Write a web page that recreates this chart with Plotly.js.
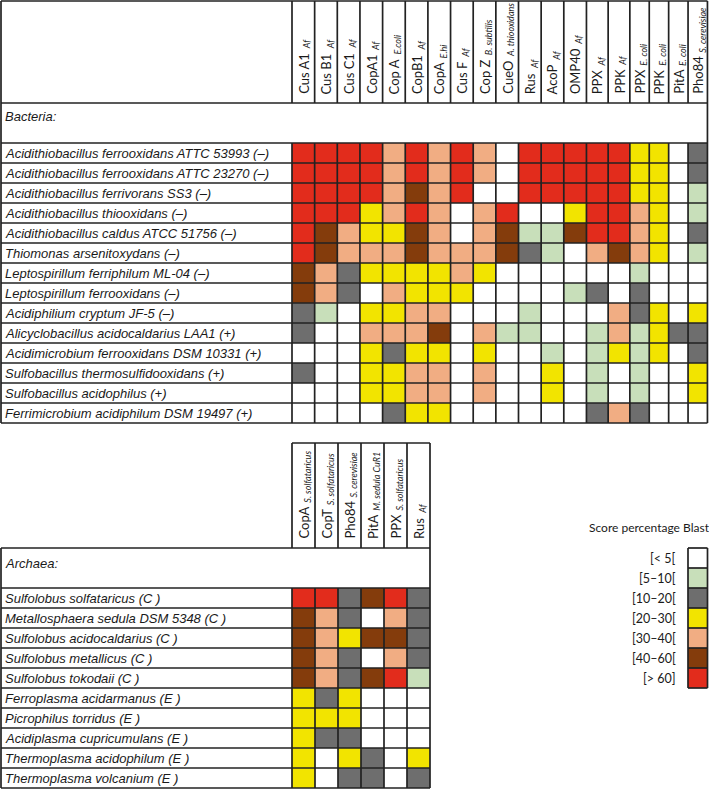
<!DOCTYPE html>
<html><head><meta charset="utf-8">
<script src="https://cdn.plot.ly/plotly-3.0.1.min.js"></script>
<style>html,body{margin:0;padding:0;background:#fff}#chart{width:709px;height:790px}</style>
</head><body><div id="chart"></div>
<script>
// ---------------- data ----------------
// score levels: 0 [<5[, 1 [5-10[, 2 [10-20[, 3 [20-30[, 4 [30-40[, 5 [40-60[, 6 [>60]
const legendLabels = ["[< 5[", "[5–10[", "[10–20[", "[20–30[", "[30–40[", "[40–60[", "[> 60]"];
const legendTitle = "Score percentage Blast";

const bacteriaGenes = ["Cus A1", "Cus B1", "Cus C1", "CopA1", "Cop A", "CopB1", "CopA", "Cus F", "Cop Z", "CueO",
  "Rus", "AcoP", "OMP40", "PPX", "PPK", "PPX", "PPK", "PitA", "Pho84"];
const bacteriaGeneSources = ["Af", "Af", "Af", "Af", "E.coli", "Af", "E.hi", "Af", "B. subtilis", "A. thiooxidans",
  "Af", "Af", "Af", "Af", "Af", "E. coli", "E. coli", "E. coli", "S. cerevisiae"];

const bacteria = [
  "Acidithiobacillus ferrooxidans ATTC 53993 (–)",
  "Acidithiobacillus ferrooxidans ATTC 23270 (–)",
  "Acidithiobacillus ferrivorans SS3 (–)",
  "Acidithiobacillus thiooxidans (–)",
  "Acidithiobacillus caldus ATCC 51756 (–)",
  "Thiomonas arsenitoxydans (–)",
  "Leptospirillum ferriphilum ML-04 (–)",
  "Leptospirillum ferrooxidans (–)",
  "Acidiphilium cryptum JF-5 (–)",
  "Alicyclobacillus acidocaldarius LAA1 (+)",
  "Acidimicrobium ferrooxidans DSM 10331 (+)",
  "Sulfobacillus thermosulfidooxidans (+)",
  "Sulfobacillus acidophilus (+)",
  "Ferrimicrobium acidiphilum DSM 19497 (+)"
];
const bacteriaScores = [
  [6,6,6,6,4,6,4,6,4,0,6,6,6,6,6,3,3,0,2],
  [6,6,6,6,4,6,4,6,4,0,6,6,6,6,6,3,3,0,2],
  [6,6,6,6,4,5,4,6,0,0,6,6,6,6,6,3,3,0,1],
  [6,6,6,3,4,6,4,0,4,6,0,0,3,6,6,4,3,0,1],
  [6,5,4,3,3,5,4,0,4,5,1,1,5,6,6,4,3,0,2],
  [6,5,4,4,4,5,4,4,4,5,2,1,0,4,5,4,3,0,1],
  [5,4,2,3,3,3,3,4,3,0,0,0,0,0,0,1,0,0,0],
  [5,4,2,0,4,3,3,3,0,0,0,0,1,2,0,2,0,0,0],
  [2,1,0,3,3,4,4,0,0,0,1,0,0,0,4,2,3,0,3],
  [2,0,0,4,4,4,5,0,4,1,1,0,0,1,4,1,3,2,2],
  [0,0,0,3,2,3,3,0,3,0,0,1,0,1,3,1,3,0,2],
  [2,0,0,3,3,4,4,0,4,0,0,3,0,1,0,1,0,0,3],
  [0,0,0,3,3,4,4,0,4,0,0,3,0,1,0,1,0,0,3],
  [0,0,0,0,2,3,3,0,0,0,0,0,0,2,4,2,0,0,0]
];

const archaeaGenes = ["CopA", "CopT", "Pho84", "PitA", "PPX", "Rus"];
const archaeaGeneSources = ["S. solfataricus", "S. solfataricus", "S. cerevisiae", "M. sedula CuR1", "S. solfataricus", "Af"];
const archaea = [
  "Sulfolobus solfataricus (C )",
  "Metallosphaera sedula DSM 5348 (C )",
  "Sulfolobus acidocaldarius (C )",
  "Sulfolobus metallicus (C )",
  "Sulfolobus tokodaii (C )",
  "Ferroplasma acidarmanus (E )",
  "Picrophilus torridus (E )",
  "Acidiplasma cupricumulans (E )",
  "Thermoplasma acidophilum (E )",
  "Thermoplasma volcanium (E )"
];
const archaeaScores = [
  [6,6,2,5,6,2],
  [5,4,2,0,4,2],
  [5,4,3,5,5,2],
  [5,4,2,0,4,2],
  [5,4,2,5,6,1],
  [3,2,3,0,0,0],
  [3,3,3,0,0,0],
  [3,2,2,0,0,0],
  [3,0,3,2,0,3],
  [3,0,2,2,0,2]
];

// ---------------- style / layout ----------------
const levelColors = ["#ffffff", "#c8dfba", "#6e6e6e", "#f2e400", "#f1ad83", "#843c0c", "#e22c1c"];
const W = 709, H = 790;
const LINE = "#222222", LW = 1.7;
const FRAME_L = 1, LABEL_R = 292;
// bacteria geometry
const B_TOP = 1, B_HEAD_B = 103, B_ROWS_T = 143, ROW_H = 20;
const bColW = [22.65,22.65,22.65,22.65,22.65,22.65,22.65,22.65,22.65,22.65,22.65,22.65,22.65,21.7,21.7,19.4,19.4,19.4,19.4];
// archaea geometry
const A_HEAD_T = 443, A_HEAD_B = 548, A_ROWS_T = 588, A_COL_W = 23;
// legend geometry
const L_X0 = 688, L_X1 = 707.5, L_Y0 = 548;

const cum = (start, widths) => { const e = [start]; widths.forEach(w => e.push(e[e.length-1] + w)); return e; };
const bX = cum(LABEL_R, bColW);
const bY = cum(B_ROWS_T, bacteria.map(() => ROW_H));
const B_BOT = bY[bY.length-1];
const B_RIGHT = bX[bX.length-1];
const aX = cum(LABEL_R, archaeaGenes.map(() => A_COL_W));
const aY = cum(A_ROWS_T, archaea.map(() => ROW_H));
const A_BOT = aY[aY.length-1];
const A_RIGHT = aX[aX.length-1];
const lY = cum(L_Y0, legendLabels.map(() => ROW_H));

const n = levelColors.length;
const colorscale = [];
levelColors.forEach((c, k) => { colorscale.push([k/n, c]); colorscale.push([(k+1)/n, c]); });

const hm = (x, y, z) => ({type: "heatmap", x, y, z, colorscale, zmin: -0.5, zmax: n - 0.5,
  showscale: false, hoverinfo: "skip", xaxis: "x", yaxis: "y"});

const traces = [
  hm(bX, bY, bacteriaScores),
  hm(aX, aY, archaeaScores),
  hm([L_X0, L_X1], lY, legendLabels.map((_, k) => [k]))
];

const shapes = [];
const ln = (x0, y0, x1, y1) => shapes.push({type: "line", xref: "x", yref: "y", x0, y0, x1, y1,
  line: {color: LINE, width: LW}});

// bacteria table lines
[B_TOP, B_HEAD_B, ...bY].forEach(y => ln(FRAME_L, y, B_RIGHT, y));
ln(FRAME_L, B_TOP, FRAME_L, B_BOT);
ln(B_RIGHT, B_TOP, B_RIGHT, B_BOT);
bX.slice(0, -1).forEach(x => { ln(x, B_TOP, x, B_HEAD_B); ln(x, B_ROWS_T, x, B_BOT); });
// archaea table lines
ln(LABEL_R, A_HEAD_T, A_RIGHT, A_HEAD_T);
[A_HEAD_B, ...aY].forEach(y => ln(FRAME_L, y, A_RIGHT, y));
ln(FRAME_L, A_HEAD_B, FRAME_L, A_BOT);
ln(A_RIGHT, A_HEAD_T, A_RIGHT, A_BOT);
aX.slice(0, -1).forEach(x => { ln(x, A_HEAD_T, x, A_HEAD_B); ln(x, A_ROWS_T, x, A_BOT); });
// legend boxes
lY.forEach(y => ln(L_X0, y, L_X1, y));
ln(L_X0, lY[0], L_X0, lY[lY.length-1]);
ln(L_X1, lY[0], L_X1, lY[lY.length-1]);

const annotations = [];
const HEAD_FAMILY = "Lato, Carlito, Calibri, sans-serif";
const rowFont = {family: "Liberation Sans, Arial, sans-serif", size: 13, color: "#1a1a1a", style: "italic"};
const headFont = {family: HEAD_FAMILY, size: 13, color: "#1a1a1a"};
const subFont = {family: HEAD_FAMILY, size: 9, color: "#1a1a1a", style: "italic"};
const rowLabel = (text, y) => annotations.push({xref: "x", yref: "y", x: 3, y, text,
  showarrow: false, xanchor: "left", yanchor: "middle", font: rowFont});

rowLabel("Bacteria:", 116);
bacteria.forEach((t, i) => rowLabel(t, (bY[i] + bY[i+1]) / 2));
rowLabel("Archaea:", 563);
archaea.forEach((t, i) => rowLabel(t, (aY[i] + aY[i+1]) / 2));

// measure the main header text so the italic source name can follow it along the rotated line
const ctx = document.createElement("canvas").getContext("2d");
const textW = (t, size) => { ctx.font = size + "px Lato"; return ctx.measureText(t).width; };

const headLabel = (name, src, x, y) => {
  annotations.push({xref: "x", yref: "y", x: x - 1, y, text: name, textangle: -90, showarrow: false,
    xanchor: "center", yanchor: "bottom", font: headFont});
  annotations.push({xref: "x", yref: "y", x: x + 3, y: y - textW(name, 13) - 4, text: src, textangle: -90,
    showarrow: false, xanchor: "center", yanchor: "bottom", font: subFont});
};
bacteriaGenes.forEach((g, j) => headLabel(g, bacteriaGeneSources[j], (bX[j] + bX[j+1]) / 2 + 1, B_HEAD_B - 7));
archaeaGenes.forEach((g, j) => headLabel(g, archaeaGeneSources[j], (aX[j] + aX[j+1]) / 2 + 1, A_HEAD_B - 7));

const legFont = {family: HEAD_FAMILY, size: 12.5, color: "#1a1a1a"};
legendLabels.forEach((t, k) => annotations.push({xref: "x", yref: "y", x: 678, y: (lY[k] + lY[k+1]) / 2,
  text: t, showarrow: false, xanchor: "right", yanchor: "middle", font: legFont}));
annotations.push({xref: "x", yref: "y", x: 649, y: 527, text: legendTitle, showarrow: false,
  xanchor: "center", yanchor: "middle", font: {family: HEAD_FAMILY, size: 12, color: "#1a1a1a"}});

const layout = {
  width: W, height: H, margin: {l: 0, r: 0, t: 0, b: 0, pad: 0},
  paper_bgcolor: "#ffffff", plot_bgcolor: "#ffffff",
  xaxis: {range: [0, W], visible: false, fixedrange: true, domain: [0, 1]},
  yaxis: {range: [H, 0], visible: false, fixedrange: true, domain: [0, 1]},
  shapes, annotations, showlegend: false
};

Plotly.newPlot("chart", traces, layout, {displayModeBar: false});
</script></body></html>
